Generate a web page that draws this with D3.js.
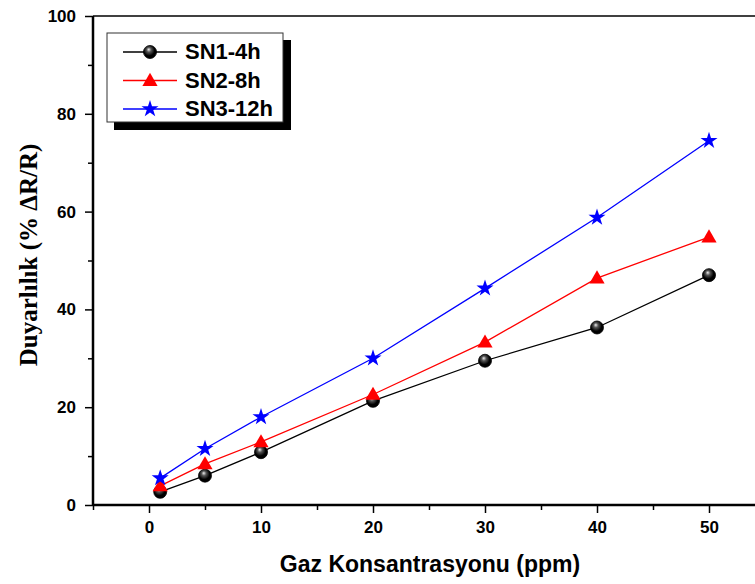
<!DOCTYPE html>
<html>
<head>
<meta charset="utf-8">
<script src="https://cdn.jsdelivr.net/npm/d3@7"></script>
<style>
  body { margin: 0; background: #fff; }
  svg { display: block; }
</style>
</head>
<body>
<svg id="chart" width="755" height="584"></svg>
<script>
// concentrations (ppm)
var conc = [1, 5, 10, 20, 30, 40, 50];
var sn1 = [2.7, 6.0, 10.8, 21.3, 29.5, 36.3, 47.0];
var sn2 = [3.9, 8.4, 12.9, 22.6, 33.3, 46.4, 54.8];
var sn3 = [5.5, 11.5, 18.0, 30.0, 44.3, 58.8, 74.5];
var seriesNames = ["SN1-4h", "SN2-8h", "SN3-12h"];
var xTicks = [0, 10, 20, 30, 40, 50];
var yTicks = [0, 20, 40, 60, 80, 100];

var svg = d3.select("#chart"),
    margin = {top: 16, left: 93},
    width = 728,
    height = 489;

var x = d3.scaleLinear().domain([-5, 60]).range([margin.left, margin.left + width]);
var y = d3.scaleLinear().domain([0, 100]).range([margin.top + height, margin.top]);

var defs = svg.append("defs");
var grad = defs.append("radialGradient").attr("id", "ball")
    .attr("cx", "45%").attr("cy", "40%").attr("r", "60%")
    .attr("fx", "40%").attr("fy", "30%");
grad.append("stop").attr("offset", "0%").attr("stop-color", "#eee");
grad.append("stop").attr("offset", "30%").attr("stop-color", "#555");
grad.append("stop").attr("offset", "70%").attr("stop-color", "#000");
grad.append("stop").attr("offset", "100%").attr("stop-color", "#000");

function styleTicks(g) {
    g.selectAll(".tick line").attr("stroke-width", 1.5);
    g.selectAll(".tick text")
        .attr("font-family", "Arial, 'Liberation Sans', sans-serif")
        .attr("font-weight", "bold").attr("font-size", 17).attr("fill", "#000");
}

// frame top line
svg.append("line")
    .attr("x1", x(-5)).attr("x2", 755)
    .attr("y1", y(100)).attr("y2", y(100))
    .attr("stroke", "#000").attr("stroke-width", 1.5);

// x axis
var xAxis = svg.append("g")
    .attr("transform", "translate(0," + y(0) + ")")
    .call(d3.axisBottom(x).tickValues(xTicks).tickSize(8).tickPadding(8).tickFormat(d3.format("d")))
    .call(styleTicks);
xAxis.select(".domain").attr("stroke-width", 2.5).attr("d", "M" + x(-5) + ",0H755");
svg.append("g")
    .attr("transform", "translate(0," + y(0) + ")")
    .call(d3.axisBottom(x).tickValues([-5, 5, 15, 25, 35, 45]).tickSize(5).tickFormat(""))
    .call(function(g) { g.select(".domain").remove(); })
    .call(styleTicks);

// y axis
var yAxis = svg.append("g")
    .attr("transform", "translate(" + x(-5) + ",0)")
    .call(d3.axisLeft(y).tickValues(yTicks).tickSize(8).tickPadding(9).tickFormat(d3.format("d")))
    .call(styleTicks);
yAxis.select(".domain").attr("stroke-width", 2.5).attr("d", "M0," + y(100) + "V" + y(0));
svg.append("g")
    .attr("transform", "translate(" + x(-5) + ",0)")
    .call(d3.axisLeft(y).tickValues([10, 30, 50, 70, 90]).tickSize(5).tickFormat(""))
    .call(function(g) { g.select(".domain").remove(); })
    .call(styleTicks);

// axis titles
svg.append("text")
    .attr("x", 430).attr("y", 572)
    .attr("text-anchor", "middle")
    .attr("font-family", "Arial, 'Liberation Sans', sans-serif")
    .attr("font-weight", "bold").attr("font-size", 23)
    .text("Gaz Konsantrasyonu (ppm)");
svg.append("text")
    .attr("transform", "translate(37,255) rotate(-90)")
    .attr("text-anchor", "middle")
    .attr("font-family", "'Times New Roman', 'Liberation Serif', serif")
    .attr("font-weight", "bold").attr("font-size", 25)
    .text("Duyarlılık (% ΔR/R)");

var colors = ["#000", "#ff0000", "#0000ff"];
var data = [sn1, sn2, sn3];
var symTri = d3.symbol().type(d3.symbolTriangle).size(100);
var symStar = d3.symbol().type(d3.symbolStar).size(90);

function drawMarker(g, i, cx, cy) {
    if (i === 0) {
        g.append("circle").attr("cx", cx).attr("cy", cy).attr("r", 6.5)
            .attr("fill", "url(#ball)").attr("stroke", "#000").attr("stroke-width", 0.8);
    } else if (i === 1) {
        g.append("path").attr("d", symTri()).attr("transform", "translate(" + cx + "," + (cy + 1) + ")")
            .attr("fill", colors[1]);
    } else {
        g.append("path").attr("d", symStar()).attr("transform", "translate(" + cx + "," + cy + ")")
            .attr("fill", colors[2]);
    }
}

var line = d3.line().x(function(d, j) { return x(conc[j]); }).y(function(d) { return y(d); });

data.forEach(function(vals, i) {
    svg.append("path").datum(vals)
        .attr("fill", "none").attr("stroke", colors[i]).attr("stroke-width", 1.3)
        .attr("d", line);
});
data.forEach(function(vals, i) {
    var g = svg.append("g");
    vals.forEach(function(v, j) { drawMarker(g, i, x(conc[j]), y(v)); });
});

// legend
var lg = svg.append("g");
lg.append("rect").attr("x", 114).attr("y", 40).attr("width", 177).attr("height", 90).attr("fill", "#000");
lg.append("rect").attr("x", 107).attr("y", 33).attr("width", 176).attr("height", 89)
    .attr("fill", "#fff").attr("stroke", "#333").attr("stroke-width", 1);
seriesNames.forEach(function(name, i) {
    var yy = 52 + i * 28.5;
    lg.append("line").attr("x1", 123).attr("x2", 177).attr("y1", yy).attr("y2", yy)
        .attr("stroke", colors[i]).attr("stroke-width", 1.3);
    drawMarker(lg, i, 150, yy);
    lg.append("text").attr("x", 185).attr("y", yy + 7)
        .attr("font-family", "Arial, 'Liberation Sans', sans-serif")
        .attr("font-weight", "bold").attr("font-size", 22)
        .text(name);
});
</script>
</body>
</html>
